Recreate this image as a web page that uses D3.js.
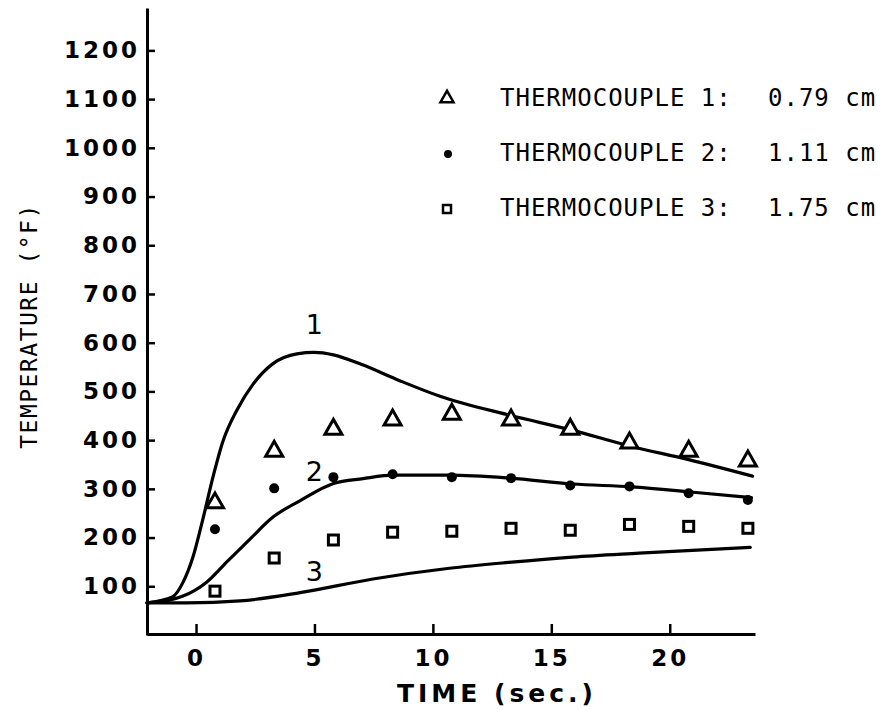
<!DOCTYPE html>
<html>
<head>
<meta charset="utf-8">
<script src="https://cdn.jsdelivr.net/npm/d3@7"></script>
<style>
  body { margin: 0; background: #fff; }
  svg { display: block; }
  .tick text { font-family: "DejaVu Sans", sans-serif; font-weight: bold; fill: #000; }
  .mono { font-family: "DejaVu Sans Mono", monospace; fill: #000; }
</style>
</head>
<body>
<div id="wrapper"></div>
<script>
// tick values
const timeTicks = [0, 5, 10, 15, 20];
const tempTicks = [100, 200, 300, 400, 500, 600, 700, 800, 900, 1000, 1100, 1200];

// measured points (sec, deg F)
const sampleTimes = [0.8, 3.3, 5.8, 8.3, 10.8, 13.3, 15.8, 18.3, 20.8, 23.3];
const tc1Temps = [275, 381, 426, 445, 457, 445, 426, 398, 381, 361];
const tc2Temps = [217, 301, 324, 330, 324, 322, 307, 305, 291, 277];
const tc3Temps = [90, 158, 195, 211, 213, 219, 215, 227, 223, 219];

// computed curves
const curve1Times = [-2.07, -1.0, -0.55, -0.13, 0.3, 0.72, 1.14, 1.73, 2.41, 3.25, 4.26, 5.0, 5.8, 7.0, 8.6, 10.3, 13.25, 15.9, 18.3, 20.8, 23.5];
const curve1Temps = [66, 78, 108, 160, 240, 325, 398, 462, 515, 557, 577, 580, 575, 555, 522, 490, 451, 420, 388, 360, 326];
const curve2Times = [-2.07, -1.1, -0.55, 0.46, 1.3, 2.28, 3.25, 4.4, 5.8, 7.05, 8.35, 10.7, 13.25, 15.9, 18.4, 21.0, 23.45];
const curve2Temps = [66, 72, 80, 109, 150, 197, 242, 276, 311, 321, 328, 328, 322, 310, 304, 293, 282];
const curve3Times = [-2.07, -0.4, 1.86, 4.4, 7.47, 10.7, 13.2, 15.9, 18.7, 23.4];
const curve3Temps = [66, 66, 70, 87, 115, 137, 149, 160, 168, 180];

const curveNames = ["1", "2", "3"];
const curveNameTimes = [5.0, 5.0, 5.0];
const curveNameTemps = [618, 316, 110];

const legendNames = ["THERMOCOUPLE 1:", "THERMOCOUPLE 2:", "THERMOCOUPLE 3:"];
const legendDepths = ["0.79 cm", "1.11 cm", "1.75 cm"];

const W = 890, H = 710;

const svg = d3.select("#wrapper")
  .append("svg")
  .attr("width", W)
  .attr("height", H);

const x = d3.scaleLinear().domain([-2.07, 23.6]).range([147, 755]);
const y = d3.scaleLinear().domain([0, 1287]).range([635, 8]);

// axes
const yAxis = d3.axisLeft(y)
  .tickValues(tempTicks)
  .tickFormat(d3.format("d"))
  .tickSize(-8)
  .tickSizeOuter(0)
  .tickPadding(7);

const gy = svg.append("g")
  .attr("transform", "translate(147,0)")
  .call(yAxis);
gy.select(".domain").attr("stroke", "#000").attr("stroke-width", 3);
gy.selectAll(".tick line").attr("stroke", "#000").attr("stroke-width", 2.5);
gy.selectAll(".tick text").style("font-size", "23px").style("letter-spacing", "3px");

const xAxis = d3.axisBottom(x)
  .tickValues(timeTicks)
  .tickFormat(d3.format("d"))
  .tickSize(-10)
  .tickSizeOuter(0)
  .tickPadding(16);

const gx = svg.append("g")
  .attr("transform", "translate(0,634)")
  .call(xAxis);
gx.select(".domain").attr("stroke", "#000").attr("stroke-width", 3);
gx.selectAll(".tick line").attr("stroke", "#000").attr("stroke-width", 2.5);
gx.selectAll(".tick text").style("font-size", "23px").style("letter-spacing", "3px");

// axis titles
svg.append("text")
  .attr("x", 497)
  .attr("y", 702)
  .attr("text-anchor", "middle")
  .style("font-family", "DejaVu Sans, sans-serif")
  .style("font-weight", "bold")
  .style("font-size", "25px")
  .style("letter-spacing", "4px")
  .text("TIME (sec.)");

svg.append("text")
  .attr("class", "mono")
  .attr("transform", "translate(37,326) rotate(-90)")
  .attr("text-anchor", "middle")
  .style("font-size", "23px")
  .style("letter-spacing", "1.5px")
  .text("TEMPERATURE (°F)");

// curves
const line = d3.line()
  .x(d => x(d[0]))
  .y(d => y(d[1]))
  .curve(d3.curveMonotoneX);

const curves = [
  d3.zip(curve1Times, curve1Temps),
  d3.zip(curve2Times, curve2Temps),
  d3.zip(curve3Times, curve3Temps)
];

svg.selectAll(".curve")
  .data(curves)
  .enter()
  .append("path")
  .attr("class", "curve")
  .attr("d", line)
  .attr("fill", "none")
  .attr("stroke", "#000")
  .attr("stroke-width", 3.2)
  .attr("stroke-linejoin", "round")
  .attr("stroke-linecap", "round");

svg.selectAll(".curve-name")
  .data(curveNames)
  .enter()
  .append("text")
  .attr("class", "curve-name")
  .attr("x", (d, i) => x(curveNameTimes[i]))
  .attr("y", (d, i) => y(curveNameTemps[i]))
  .attr("text-anchor", "middle")
  .style("font-family", "DejaVu Sans, sans-serif")
  .style("font-size", "27px")
  .text(d => d);

// markers
function triPath(cx, cy, s) {
  return "M" + (cx - s) + "," + (cy + s * 0.8) +
    "L" + (cx + s) + "," + (cy + s * 0.8) +
    "L" + cx + "," + (cy - s * 0.95) + "Z";
}

const pts1 = d3.zip(sampleTimes, tc1Temps);
const pts2 = d3.zip(sampleTimes, tc2Temps);
const pts3 = d3.zip(sampleTimes, tc3Temps);

svg.selectAll(".tri")
  .data(pts1)
  .enter()
  .append("path")
  .attr("class", "tri")
  .attr("d", d => triPath(x(d[0]), y(d[1]), 8.5))
  .attr("fill", "#fff")
  .attr("stroke", "#000")
  .attr("stroke-width", 3)
  .attr("stroke-linejoin", "miter");

svg.selectAll(".dot")
  .data(pts2)
  .enter()
  .append("circle")
  .attr("class", "dot")
  .attr("cx", d => x(d[0]))
  .attr("cy", d => y(d[1]))
  .attr("r", 5)
  .attr("fill", "#000");

svg.selectAll(".sq")
  .data(pts3)
  .enter()
  .append("rect")
  .attr("class", "sq")
  .attr("x", d => x(d[0]) - 5)
  .attr("y", d => y(d[1]) - 5)
  .attr("width", 10)
  .attr("height", 10)
  .attr("fill", "#fff")
  .attr("stroke", "#000")
  .attr("stroke-width", 3);

// legend
const legend = svg.selectAll(".legend")
  .data(legendNames)
  .enter()
  .append("g")
  .attr("class", "legend")
  .attr("transform", (d, i) => "translate(0," + (97 + i * 55) + ")");

legend.append("text")
  .attr("class", "mono")
  .attr("x", 500)
  .attr("y", 9)
  .style("font-size", "24px")
  .style("letter-spacing", "1px")
  .text(d => d);

legend.append("text")
  .attr("class", "mono")
  .attr("x", 768)
  .attr("y", 9)
  .style("font-size", "24px")
  .style("letter-spacing", "1px")
  .text((d, i) => legendDepths[i]);

legend.filter((d, i) => i === 0).append("path")
  .attr("d", triPath(447, 0, 6.5))
  .attr("fill", "#fff")
  .attr("stroke", "#000")
  .attr("stroke-width", 2.5);

legend.filter((d, i) => i === 1).append("circle")
  .attr("cx", 448)
  .attr("cy", 2)
  .attr("r", 4)
  .attr("fill", "#000");

legend.filter((d, i) => i === 2).append("rect")
  .attr("x", 443)
  .attr("y", -2)
  .attr("width", 8)
  .attr("height", 8)
  .attr("fill", "#fff")
  .attr("stroke", "#000")
  .attr("stroke-width", 2.5);
</script>
</body>
</html>
